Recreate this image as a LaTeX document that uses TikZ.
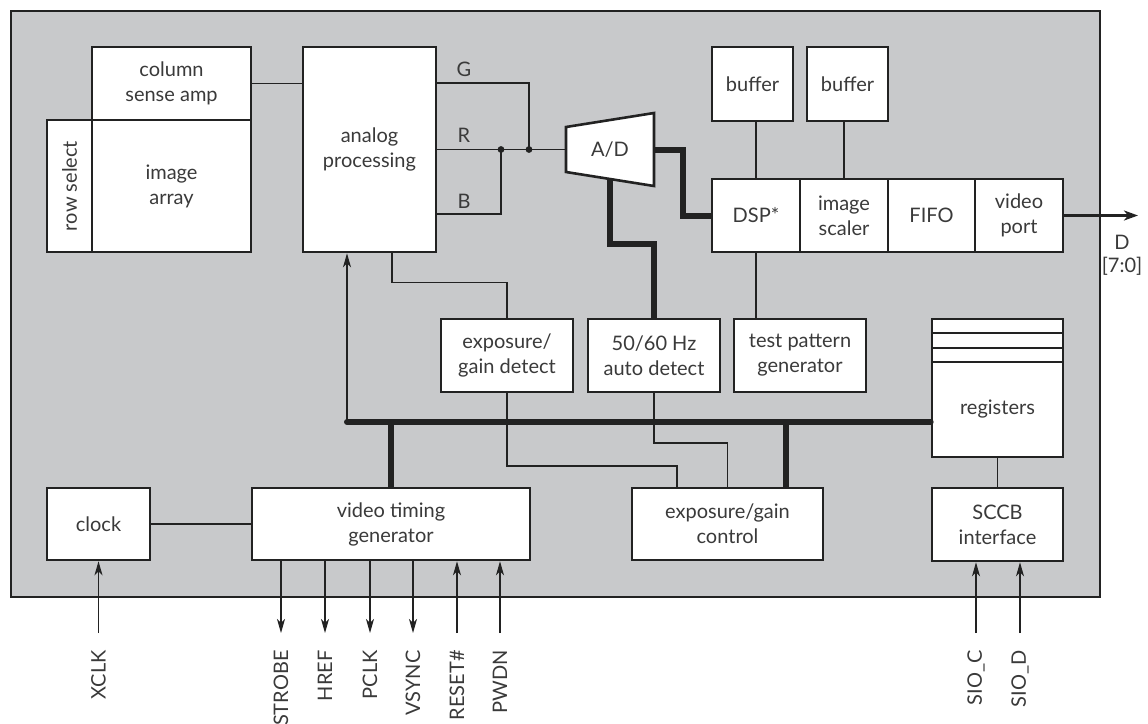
\documentclass[tikz,border=0pt]{standalone}
\usepackage{fontspec}
\setmainfont{Lato}
\usetikzlibrary{arrows.meta,calc}
\definecolor{bg}{HTML}{C8C9CB}
\definecolor{linec}{HTML}{222222}
\definecolor{textc}{HTML}{3A3A3A}
\begin{document}
\begin{tikzpicture}[x=0.5pt,y=-0.5pt,
  font=\fontsize{10}{12.5}\selectfont,
  box/.style={draw=linec, fill=white, line width=1.3pt, align=center, inner sep=0pt, text=textc},
  wire/.style={draw=linec, line width=0.6pt},
  bus/.style={draw=linec, line width=3pt},
  arr/.style={wire, -{Stealth[length=7pt,width=4pt,inset=2pt]}},
  pinlbl/.style={text=textc, rotate=90, anchor=east, inner sep=0pt},
  dot/.style={circle, fill=linec, inner sep=0pt, minimum size=3.4pt}]
\useasboundingbox (0,0) rectangle (1148,724);
% outer box
\draw[fill=bg, draw=linec, line width=1.3pt] (11,11) rectangle (1100,597);

% sensor
\node[box, minimum width=79.5pt, minimum height=36.5pt] (csa) at (171.5,83.5) {column\\sense amp};
\node[box, minimum width=22.5pt, minimum height=66pt] (rowsel) at (69.5,186) {\rotatebox{90}{row select}};
\node[box, minimum width=79.5pt, minimum height=66pt] (imgarr) at (171.5,186) {image\\array};
\node[box, minimum width=66.5pt, minimum height=102.5pt] (analog) at (369.5,149.5) {analog\\processing};

% A/D
\draw[fill=white, draw=linec, line width=1.3pt] (566,127) -- (654,113) -- (654,186) -- (566,172) -- cycle;
\node[text=textc] (ad) at (610,150) {A/D};
\coordinate (adin) at (566,149.5);
\coordinate (adout) at (654,150);
\coordinate (adbot) at (610,179);

% DSP chain
\node[box, minimum width=40.5pt, minimum height=37pt] (buf1) at (752.5,84) {buffer};
\node[box, minimum width=40.5pt, minimum height=37pt] (buf2) at (847.5,84) {buffer};
\node[box, minimum width=44pt, minimum height=36.5pt] (dsp) at (756,215.5) {DSP*};
\node[box, minimum width=44pt, minimum height=36.5pt] (scaler) at (844,215.5) {image\\scaler};
\node[box, minimum width=43.5pt, minimum height=36.5pt] (fifo) at (931.5,215.5) {FIFO};
\node[box, minimum width=44pt, minimum height=36.5pt] (vport) at (1019,215.5) {video\\port};

% middle row
\node[box, minimum width=66pt, minimum height=36.5pt] (expdet) at (507,355.5) {exposure/\\gain detect};
\node[box, minimum width=66pt, minimum height=36.5pt] (hz) at (654,355.5) {50/60 Hz\\auto detect};
\node[box, minimum width=66pt, minimum height=36.5pt] (tpg) at (800,355.5) {test pattern\\generator};

% registers
\node[box, minimum width=65.5pt, minimum height=69pt] (regs) at (997.5,388) {};
\node[text=textc] at (997.5,409) {registers};
\draw[line width=1.3pt, draw=linec] (932,333) -- (1063,333) (932,348) -- (1063,348) (932,362) -- (1063,362);
\node[box, minimum width=65.5pt, minimum height=36.5pt] (sccb) at (997.5,524.5) {SCCB\\interface};

% bottom row
\node[box, minimum width=51.5pt, minimum height=36pt] (clock) at (98.5,524) {clock};
\node[box, minimum width=139pt, minimum height=36pt] (vtg) at (391,524) {video timing\\generator};
\node[box, minimum width=95.5pt, minimum height=36pt] (egc) at (727.5,524) {exposure/gain\\control};

% analog connections
\draw[wire] (csa.east) -- (csa.east -| analog.west);
\coordinate (jG) at (529,149.5);
\coordinate (jB) at (501,149.5);
\draw[wire] (analog.east |- 0,83) -- (529,83) -- (jG);
\draw[wire] (analog.east |- jB) -- (jB) -- (jG) -- (adin);
\draw[wire] (analog.east |- 0,214) -- (501,214) -- (jB);
\node[dot] at (jG) {};
\node[dot] at (jB) {};
\node[text=textc] at (464,69) {G};
\node[text=textc] at (464,135) {R};
\node[text=textc] at (464,201) {B};

% A/D outputs
\draw[bus] (adout) -- (683,150) -- (683,215.5) -- (dsp.west);
\draw[bus] (adbot) -- (610,244) -- (654,244) -- (hz.north);

% DSP chain links
\draw[wire] (dsp.north) -- (dsp.north |- buf1.south);
\draw[wire] (scaler.north) -- (scaler.north |- buf2.south);
\draw[wire] (dsp.south) -- (dsp.south |- tpg.north);
\coordinate (dout) at (1138,215.5);
\draw[draw=linec, line width=1.5pt, -{Stealth[length=7pt,width=5pt,inset=2pt]}] (vport.east) -- (dout);
\node[text=textc] at (1122,242) {D};
\node[text=textc] at (1122,266) {[7:0]};

% analog to exposure detect
\draw[wire] ($(analog.south)+(22.5,0)$) -- ($(analog.south)+(22.5,29)$) -| (expdet.north);

% bus
\coordinate (busL) at (347,422);
\draw[bus, line cap=round] (busL) -- (busL -| regs.west);
\draw[arr] (busL) -- (busL |- analog.south);
\draw[bus] (busL -| vtg.north) -- (vtg.north);
\draw[bus] (786,422) -- (egc.north -| 786,0);

% detect to control
\draw[wire] (expdet.south) -- (507,466) -- (677,466) -- (egc.north -| 677,0);
\draw[wire] (hz.south) -- (654,443) -- (727.5,443) -- (egc.north);

% bottom links
\draw[wire] (clock.east) -- (clock.east -| vtg.west);
\draw[wire] (regs.south) -- (sccb.north);

% pins
\coordinate (pXCLK) at (98.5,633);
\coordinate (pSTROBE) at (281,633);
\coordinate (pHREF) at (325,633);
\coordinate (pPCLK) at (370,633);
\coordinate (pVSYNC) at (413,633);
\coordinate (pRESET) at (457,633);
\coordinate (pPWDN) at (500,633);
\coordinate (pSIOC) at (976,633);
\coordinate (pSIOD) at (1020,633);
\draw[arr] (pXCLK) -- (clock.south);
\draw[arr] (pSTROBE |- vtg.south) -- (pSTROBE);
\draw[arr] (pHREF |- vtg.south) -- (pHREF);
\draw[arr] (pPCLK |- vtg.south) -- (pPCLK);
\draw[arr] (pVSYNC |- vtg.south) -- (pVSYNC);
\draw[arr] (pRESET) -- (pRESET |- vtg.south);
\draw[arr] (pPWDN) -- (pPWDN |- vtg.south);
\draw[arr] (pSIOC) -- (pSIOC |- sccb.south);
\draw[arr] (pSIOD) -- (pSIOD |- sccb.south);
\node[pinlbl] at (98.5,650) {XCLK};
\node[pinlbl] at (281,650) {STROBE};
\node[pinlbl] at (325,650) {HREF};
\node[pinlbl] at (370,650) {PCLK};
\node[pinlbl] at (413,650) {VSYNC};
\node[pinlbl] at (457,650) {RESET\#};
\node[pinlbl] at (500,650) {PWDN};
\node[pinlbl] at (976,650) {SIO\_C};
\node[pinlbl] at (1020,650) {SIO\_D};
\end{tikzpicture}
\end{document}
